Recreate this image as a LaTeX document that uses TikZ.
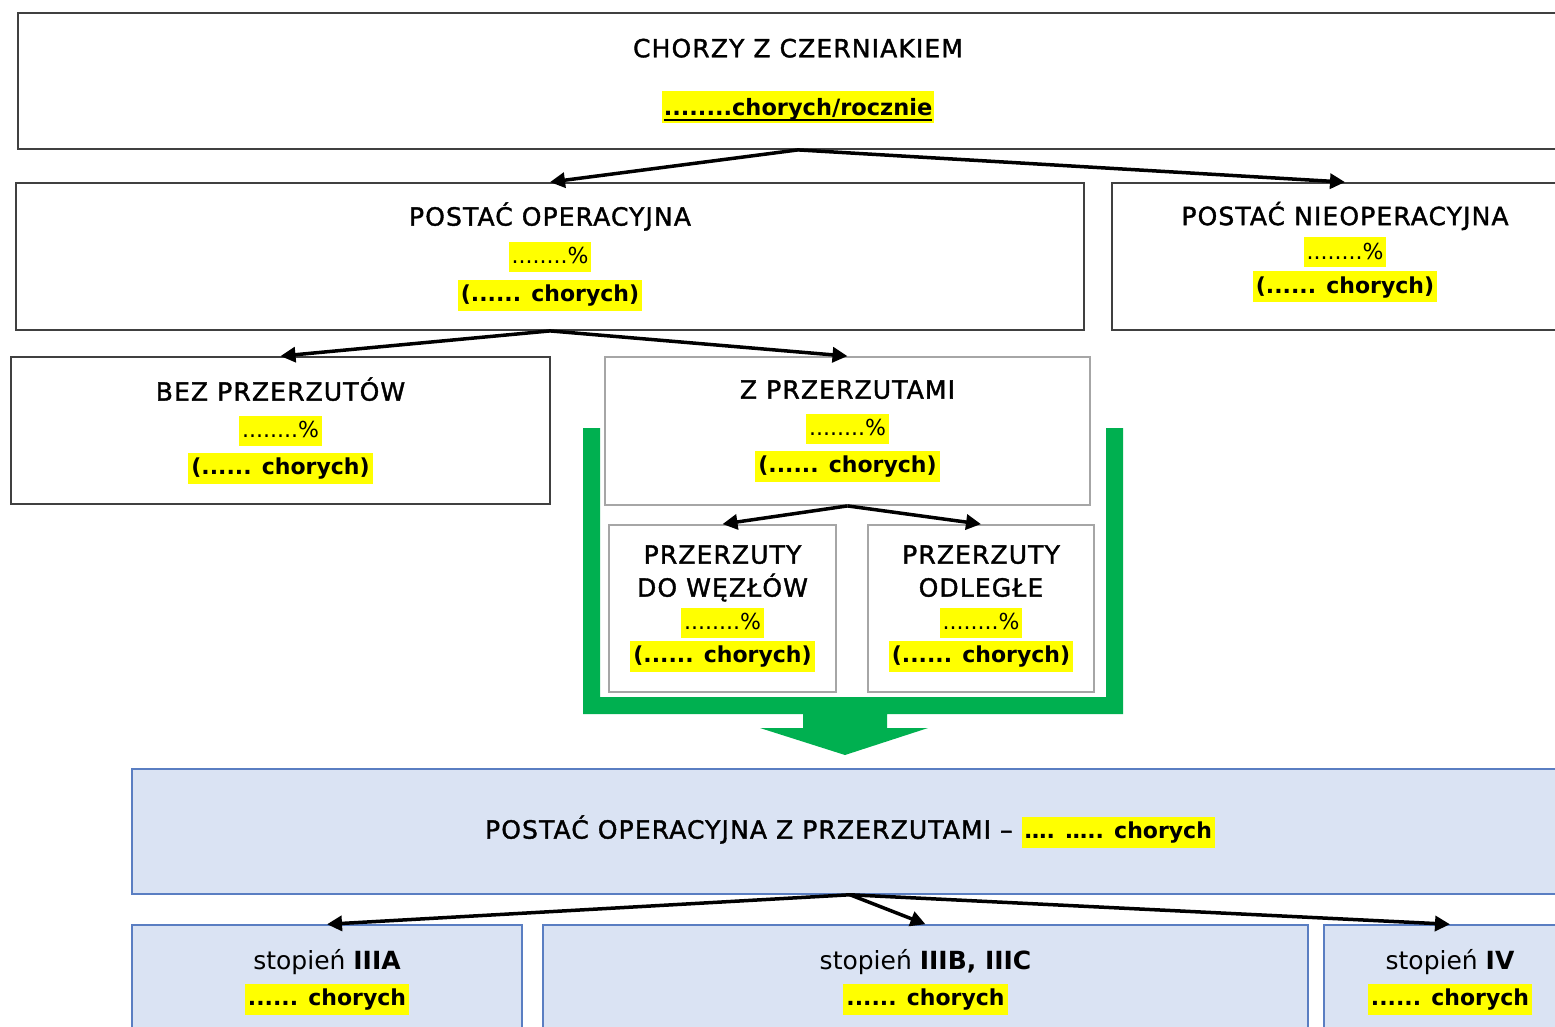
\documentclass[tikz,border=0pt]{standalone}
\usepackage{fontspec}
\setmainfont{DejaVu Sans}
\newfontfamily\headfont[LetterSpace=4.5,FakeBold=1.5]{DejaVu Sans}
\usetikzlibrary{arrows.meta}
\definecolor{hlyellow}{HTML}{FFFF00}
\definecolor{boxdark}{HTML}{404040}
\definecolor{boxlight}{HTML}{A6A6A6}
\definecolor{bluefill}{HTML}{DAE3F3}
\definecolor{blueline}{HTML}{5A7EC2}
\definecolor{greenbar}{HTML}{00B050}
\lineskiplimit=-1000pt
\newcommand\hlpct[1]{{\setlength{\fboxsep}{0pt}\colorbox{hlyellow}{\hspace{3pt}\rule[-8pt]{0pt}{30pt}\normalfont\fontsize{22}{22}\selectfont #1\hspace{3pt}}}}
\newcommand\hlbold[1]{{\setlength{\fboxsep}{0pt}\colorbox{hlyellow}{\hspace{3pt}\rule[-9pt]{0pt}{31pt}\normalfont\bfseries\fontsize{22}{22}\selectfont #1\hspace{3pt}}}}
\newcommand\hltop[1]{{\setlength{\fboxsep}{0pt}\colorbox{hlyellow}{\hspace{2pt}\rule[-8pt]{0pt}{32pt}\normalfont\bfseries\fontsize{22.5}{22}\selectfont\setbox0\hbox{#1}\rlap{\rule[-6pt]{\wd0}{2.5pt}}\box0\hspace{2pt}}}}
\begin{document}
\begin{tikzpicture}[x=1pt,y=-1pt,
  basebox/.style={inner sep=0pt, align=center, font=\headfont\fontsize{25}{34}\selectfont},
  darkbox/.style={basebox, draw=boxdark, line width=1.8pt},
  lightbox/.style={basebox, draw=boxlight, line width=1.8pt},
  bluebox/.style={basebox, draw=blueline, fill=bluefill, line width=1.5pt},
  conn/.style={draw=black, line width=3.5pt, -{Triangle[length=15pt,width=15pt]}},
]
\useasboundingbox (0,0) rectangle (1555,1026);

% green bracket with arrow
\fill[greenbar] (583,428) -- (583,714) -- (803,714) -- (803,728) -- (760,728) -- (845,755)
  -- (928,728) -- (887,728) -- (887,714) -- (1123,714) -- (1123,428) -- (1106,428)
  -- (1106,697) -- (600,697) -- (600,428) -- cycle;

\node[darkbox, minimum width=1560pt, minimum height=136pt] (top) at (798,81)
  {CHORZY Z CZERNIAKIEM\\[24pt]\hltop{........chorych/rocznie}};

\node[darkbox, minimum width=1068pt, minimum height=147pt] (opr) at (550,256.5)
  {POSTAĆ OPERACYJNA\\[4pt]\hlpct{........\%}\\[4pt]\hlbold{(...... chorych)}};

\node[darkbox, minimum width=466pt, minimum height=147pt] (nieop) at (1345,256.5)
  {POSTAĆ NIEOPERACYJNA\\\hlpct{........\%}\\\hlbold{(...... chorych)}\\[-16pt]\mbox{}};

\node[darkbox, minimum width=539pt, minimum height=147pt] (bez) at (280.5,430.5)
  {BEZ PRZERZUTÓW\\[3pt]\hlpct{........\%}\\[3pt]\hlbold{(...... chorych)}};

\node[lightbox, minimum width=485pt, minimum height=148pt] (zp) at (847.5,431)
  {Z PRZERZUTAMI\\[3pt]\hlpct{........\%}\\[3pt]\hlbold{(...... chorych)}};

\node[lightbox, minimum width=227pt, minimum height=167pt] (wez) at (722.5,608.5)
  {PRZERZUTY\\[-1pt]DO WĘZŁÓW\\[-1pt]\hlpct{........\%}\\[-1pt]\hlbold{(...... chorych)}};

\node[lightbox, minimum width=226pt, minimum height=167pt] (odl) at (981,608.5)
  {PRZERZUTY\\[-1pt]ODLEGŁE\\[-1pt]\hlpct{........\%}\\[-1pt]\hlbold{(...... chorych)}};

\node[bluebox, minimum width=1436pt, minimum height=125pt] (blue) at (850,831.5)
  {POSTAĆ OPERACYJNA Z PRZERZUTAMI – \hlbold{…. ….. chorych}};

\node[bluebox, minimum width=390pt, minimum height=114pt] (s3a) at (327,982)
  {\normalfont stopień \textbf{IIIA}\\[2pt]\hlbold{...... chorych}};

\node[bluebox, minimum width=765pt, minimum height=114pt] (s3b) at (925.5,982)
  {\normalfont stopień \textbf{IIIB, IIIC}\\[2pt]\hlbold{...... chorych}};

\node[bluebox, minimum width=252pt, minimum height=114pt] (s4) at (1450,982)
  {\normalfont stopień \textbf{IV}\\[2pt]\hlbold{...... chorych}};

% connectors
\draw[conn] (top.south) -- (opr.north);
\draw[conn] (top.south) -- (nieop.north);
\draw[conn] (opr.south) -- (bez.north);
\draw[conn] (opr.south) -- (zp.north);
\draw[conn] (zp.south) -- (wez.north);
\draw[conn] (zp.south) -- (odl.north);
\draw[conn] (blue.south) -- (s3a.north);
\draw[conn] (blue.south) -- (s3b.north);
\draw[conn] (blue.south) -- (s4.north);
\end{tikzpicture}
\end{document}
